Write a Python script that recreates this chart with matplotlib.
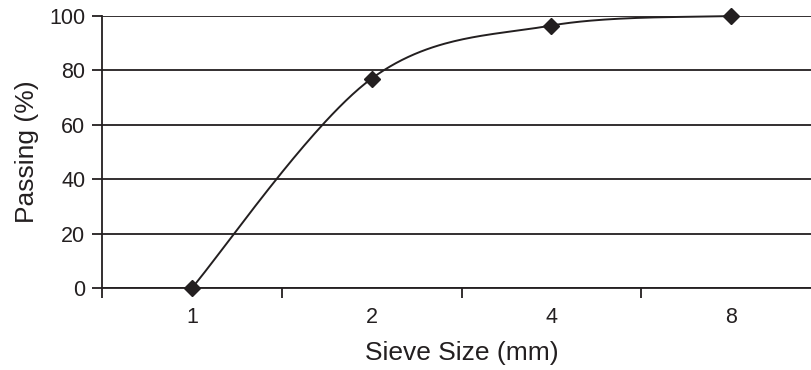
import numpy as np
import matplotlib
matplotlib.use("Agg")
import matplotlib.pyplot as plt

# sieve sizes (categories) and cumulative passing values
sieve_labels = ["1", "2", "4", "8"]
passing = [0, 77, 96.5, 100]
y_ticks = [0, 20, 40, 60, 80, 100]

INK = "#231f20"


def smooth_curve(xs, ys, n=60):
    """Excel-like smoothed line: cubic Bezier through the points."""
    pts = np.column_stack([xs, ys]).astype(float)
    padded = np.vstack([pts[0], pts, pts[-1]])
    t = np.linspace(0, 1, n)[:, None]
    out = []
    for i in range(len(pts) - 1):
        p0, p3 = padded[i + 1], padded[i + 2]
        c1 = p0 + (padded[i + 2] - padded[i]) / 6
        c2 = p3 - (padded[i + 3] - padded[i + 1]) / 6
        seg = ((1 - t) ** 3) * p0 + 3 * ((1 - t) ** 2) * t * c1 \
            + 3 * (1 - t) * t ** 2 * c2 + t ** 3 * p3
        out.append(seg)
    curve = np.vstack(out)
    return curve[:, 0], curve[:, 1]


plt.rcParams["font.family"] = ["Liberation Sans", "DejaVu Sans"]

fig = plt.figure(figsize=(8.11, 3.7), dpi=100)
ax = fig.add_axes([102 / 811, 82 / 370, 719 / 811, 272 / 370])

x = np.arange(len(sieve_labels))
cx, cy = smooth_curve(x, passing)
ax.plot(cx, cy, color=INK, lw=1.4, clip_on=False, zorder=3)
ax.plot(x, passing, ls="none", marker="D", ms=8, color=INK, clip_on=False, zorder=4)

ax.set_xlim(-0.5, len(sieve_labels) - 0.5)
ax.set_ylim(0, 100)
ax.set_yticks(y_ticks)
ax.yaxis.grid(True, color=INK, lw=1.3)
ax.set_axisbelow(True)

# labels sit at category centres, tick marks at category borders
ax.set_xticks(x)
ax.set_xticklabels(sieve_labels)
ax.set_xticks(np.arange(-0.5, len(sieve_labels)), minor=True)
ax.tick_params(axis="x", which="major", length=0, pad=14, labelsize=15.5, colors=INK)
ax.tick_params(axis="x", which="minor", length=7, width=1.3, color=INK)
ax.tick_params(axis="y", length=7, width=1.3, pad=5, labelsize=15.5, colors=INK)

for side in ("top", "right"):
    ax.spines[side].set_visible(False)
for side in ("left", "bottom"):
    ax.spines[side].set_color(INK)
    ax.spines[side].set_linewidth(1.3)

ax.set_xlabel("Sieve Size (mm)", fontsize=19, color=INK, labelpad=9)
ax.set_ylabel("Passing (%)", fontsize=19, color=INK, labelpad=7)

fig.savefig("out.png", dpi=100)
